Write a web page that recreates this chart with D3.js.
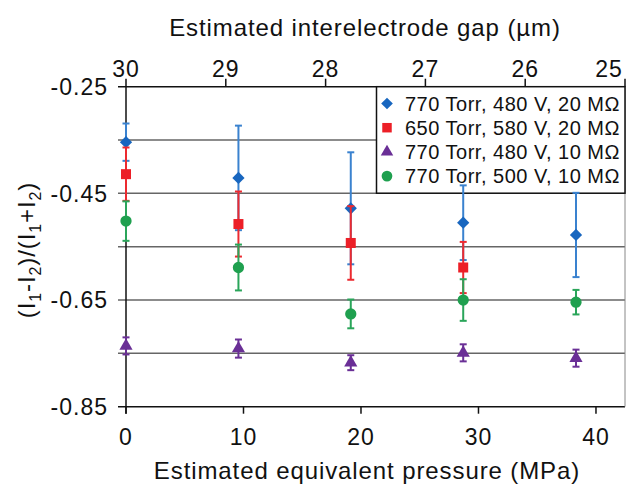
<!DOCTYPE html>
<html>
<head>
<meta charset="utf-8">
<script src="https://cdn.jsdelivr.net/npm/d3@7"></script>
<style>
  body { margin: 0; background: #fff; }
  svg { display: block; font-family: "Liberation Sans", Arial, sans-serif; }
  .tick-label { font-size: 23px; letter-spacing: 1px; fill: #111; }
  .axis-title { font-size: 24px; letter-spacing: 0.9px; fill: #111; }
  .legend-text { font-size: 20px; letter-spacing: 0.5px; fill: #111; }
</style>
</head>
<body>
<div id="wrapper"></div>
<script>
const pressure = [0, 9.57, 19.13, 28.7, 38.3]
const gapTicks = [30, 29, 28, 27, 26, 25]
const pressureTicks = [0, 10, 20, 30, 40]
const yLabelTicks = [-0.25, -0.45, -0.65, -0.85]
const yGridTicks = [-0.25, -0.35, -0.45, -0.55, -0.65, -0.75, -0.85]

const seriesNames = [
  "770 Torr, 480 V, 20 MΩ",
  "650 Torr, 580 V, 20 MΩ",
  "770 Torr, 480 V, 10 MΩ",
  "770 Torr, 500 V, 10 MΩ"
]
const blueValues = [-0.354, -0.421, -0.478, -0.505, -0.528]
const blueErrors = [0.035, 0.098, 0.105, 0.07, 0.079]
const redValues = [-0.414, -0.5075, -0.543, -0.589]
const redErrors = [0.05, 0.061, 0.069, 0.048]
const purpleValues = [-0.736, -0.741, -0.7675, -0.749, -0.759]
const purpleErrors = [0.016, 0.017, 0.014, 0.016, 0.016]
const greenValues = [-0.502, -0.589, -0.676, -0.65, -0.654]
const greenErrors = [0.037, 0.043, 0.027, 0.039, 0.023]

const series = [
  { name: seriesNames[0], values: blueValues, errors: blueErrors, color: "#1866bf", bar: "#3a82cf", symbol: d3.symbolSquare, size: 75, rotate: 45 },
  { name: seriesNames[1], values: redValues, errors: redErrors, color: "#ec1f27", bar: "#ec2a30", symbol: d3.symbolSquare, size: 100, rotate: 0 },
  { name: seriesNames[2], values: purpleValues, errors: purpleErrors, color: "#6a2f96", bar: "#6a2f96", symbol: d3.symbolTriangle, size: 75, rotate: 0 },
  { name: seriesNames[3], values: greenValues, errors: greenErrors, color: "#1fa04f", bar: "#2aa55a", symbol: d3.symbolCircle, size: 100, rotate: 0 }
]

const width = 626
const height = 487
const plot = { left: 126, right: 625, top: 86.7, bottom: 406.7 }

const svg = d3.select("#wrapper").append("svg")
  .attr("width", width)
  .attr("height", height)

const x = d3.scaleLinear().domain([0, 42.47]).range([plot.left, plot.right])
const xTop = d3.scaleLinear().domain([30, 25]).range([plot.left, plot.right])
const y = d3.scaleLinear().domain([-0.85, -0.25]).range([plot.bottom, plot.top])

// horizontal grid lines (also act as left ticks)
svg.selectAll(".grid")
  .data(yGridTicks)
  .join("line")
  .attr("x1", plot.left - 8)
  .attr("x2", plot.right)
  .attr("y1", d => y(d))
  .attr("y2", d => y(d))
  .attr("stroke", d => (d === -0.25 || d === -0.85) ? "#111" : "#666")
  .attr("stroke-width", 1.5)

// right border
svg.append("line")
  .attr("x1", plot.right).attr("x2", plot.right)
  .attr("y1", plot.top).attr("y2", plot.bottom)
  .attr("stroke", "#888").attr("stroke-width", 1)

// y axis line
svg.append("line")
  .attr("x1", plot.left).attr("x2", plot.left)
  .attr("y1", plot.top).attr("y2", plot.bottom + 7)
  .attr("stroke", "#111").attr("stroke-width", 1.5)

// y labels
svg.selectAll(".ylab")
  .data(yLabelTicks)
  .join("text")
  .attr("class", "tick-label")
  .attr("x", 108)
  .attr("y", d => y(d))
  .attr("dy", "0.36em")
  .attr("text-anchor", "end")
  .text(d => d.toFixed(2))

// bottom ticks + labels
svg.selectAll(".xtick")
  .data(pressureTicks)
  .join("line")
  .attr("x1", d => x(d)).attr("x2", d => x(d))
  .attr("y1", plot.bottom).attr("y2", plot.bottom + 7)
  .attr("stroke", "#111").attr("stroke-width", 1.5)

svg.selectAll(".xlab")
  .data(pressureTicks)
  .join("text")
  .attr("class", "tick-label")
  .attr("x", d => x(d))
  .attr("y", 445)
  .attr("text-anchor", "middle")
  .text(d => d)

// top ticks + labels
svg.selectAll(".ttick")
  .data(gapTicks)
  .join("line")
  .attr("x1", d => xTop(d)).attr("x2", d => xTop(d))
  .attr("y1", plot.top).attr("y2", plot.top - 8)
  .attr("stroke", "#111").attr("stroke-width", 1.5)

svg.selectAll(".tlab")
  .data(gapTicks)
  .join("text")
  .attr("class", "tick-label")
  .attr("x", d => Math.min(xTop(d), 609))
  .attr("y", 77)
  .attr("text-anchor", "middle")
  .text(d => d)

// axis titles
svg.append("text")
  .attr("class", "axis-title")
  .attr("x", 367)
  .attr("y", 479)
  .attr("text-anchor", "middle")
  .text("Estimated equivalent pressure (MPa)")

svg.append("text")
  .attr("class", "axis-title")
  .attr("x", 365)
  .attr("y", 36)
  .attr("text-anchor", "middle")
  .text("Estimated interelectrode gap (µm)")

const yTitle = svg.append("text")
  .attr("class", "axis-title")
  .attr("transform", "translate(35, 250) rotate(-90)")
  .attr("text-anchor", "middle")
const yParts = [["(I", false], ["1", true], ["-I", false], ["2", true], [")/(I", false], ["1", true], ["+I", false], ["2", true], [")", false]]
yParts.forEach(([t, sub]) => {
  yTitle.append("tspan")
    .attr("dy", sub ? 6 : -6)
    .style("font-size", sub ? "16px" : null)
    .text(t)
})
yTitle.select("tspan").attr("dy", 0)

// legend
const legend = svg.append("g")
legend.append("rect")
  .attr("x", 376.5).attr("y", plot.top)
  .attr("width", plot.right - 376.5).attr("height", 106.5)
  .attr("fill", "#fff")
  .attr("stroke", "#111").attr("stroke-width", 1.5)

const legendRows = legend.selectAll(".row")
  .data(series)
  .join("g")
  .attr("transform", (d, i) => `translate(387, ${103.5 + i * 24.2})`)

legendRows.append("path")
  .attr("d", d => d3.symbol(d.symbol, d.size * 0.9)())
  .attr("transform", d => `rotate(${d.rotate})`)
  .attr("fill", d => d.color)

legendRows.append("text")
  .attr("class", "legend-text")
  .attr("x", 18)
  .attr("dy", "0.36em")
  .text(d => d.name)

// data with error bars
const groups = svg.selectAll(".series")
  .data(series)
  .join("g")

groups.each(function (s) {
  const g = d3.select(this)
  const pts = s.values.map((v, i) => ({ x: pressure[i], v, e: s.errors[i] }))
  g.selectAll(".err")
    .data(pts)
    .join("line")
    .attr("x1", d => x(d.x)).attr("x2", d => x(d.x))
    .attr("y1", d => y(d.v + d.e)).attr("y2", d => y(d.v - d.e))
    .attr("stroke", s.bar).attr("stroke-width", 2)
  ;["cap-top", "cap-bot"].forEach((c, k) => {
    g.selectAll("." + c)
      .data(pts)
      .join("line")
      .attr("x1", d => x(d.x) - 3.5).attr("x2", d => x(d.x) + 3.5)
      .attr("y1", d => y(k ? d.v - d.e : d.v + d.e))
      .attr("y2", d => y(k ? d.v - d.e : d.v + d.e))
      .attr("stroke", s.bar).attr("stroke-width", 2)
  })
  g.selectAll(".pt")
    .data(pts)
    .join("path")
    .attr("transform", d => `translate(${x(d.x)}, ${y(d.v)}) rotate(${s.rotate})`)
    .attr("d", d3.symbol(s.symbol, s.size)())
    .attr("fill", s.color)
})
</script>
</body>
</html>
